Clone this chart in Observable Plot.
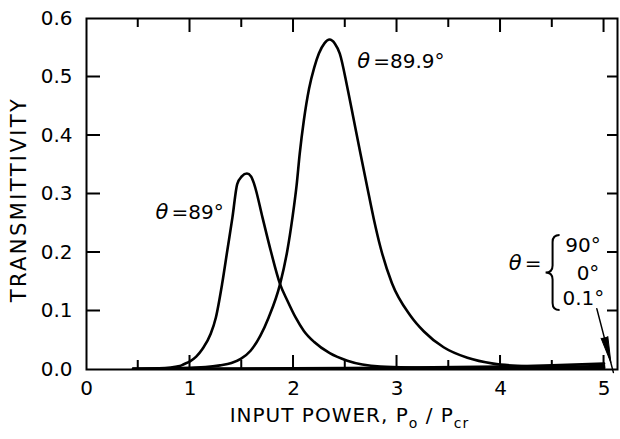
<!DOCTYPE html>
<html><head><meta charset="utf-8">
<script src="https://cdn.jsdelivr.net/npm/d3@7"></script>
<script src="https://cdn.jsdelivr.net/npm/@observablehq/plot@0.6"></script>
<style>
body{margin:0;background:#fff}
</style></head><body><div id="chart"></div>
<script>
// ---- data ----
const power89 = [0.45, 0.7, 0.9, 0.94, 1.0, 1.06, 1.12, 1.2, 1.25, 1.31, 1.36, 1.41, 1.456, 1.5, 1.55, 1.59, 1.62, 1.70, 1.78, 1.87, 1.94, 2.02, 2.10, 2.2, 2.35, 2.52, 2.84, 3.2, 3.6, 4.0, 4.5, 5.0];
const trans89 = [0.001, 0.002, 0.006, 0.009, 0.014, 0.022, 0.035, 0.061, 0.089, 0.146, 0.203, 0.260, 0.317, 0.330, 0.335, 0.330, 0.317, 0.260, 0.203, 0.146, 0.118, 0.089, 0.066, 0.047, 0.028, 0.015, 0.005, 0.003, 0.002, 0.002, 0.001, 0.001];

const power899 = [0.45, 0.8, 1.0, 1.15, 1.29, 1.40, 1.49, 1.585, 1.68, 1.76, 1.87, 1.94, 1.99, 2.03, 2.06, 2.10, 2.15, 2.20, 2.245, 2.30, 2.348, 2.40, 2.447, 2.519, 2.583, 2.647, 2.712, 2.776, 2.84, 2.95, 3.13, 3.26, 3.45, 3.68, 3.93, 4.2, 4.6, 5.0];
const trans899 = [0.001, 0.002, 0.003, 0.004, 0.007, 0.011, 0.018, 0.032, 0.058, 0.089, 0.146, 0.203, 0.260, 0.315, 0.369, 0.426, 0.480, 0.516, 0.540, 0.558, 0.564, 0.557, 0.540, 0.483, 0.426, 0.369, 0.312, 0.257, 0.209, 0.148, 0.092, 0.065, 0.038, 0.020, 0.010, 0.006, 0.004, 0.003];

const powerFlat = [0.45, 1, 2, 3, 4, 4.5, 5.0];
const trans90  = [0.001, 0.001, 0.002, 0.003, 0.005, 0.007, 0.010];
const trans0   = [0.000, 0.001, 0.001, 0.002, 0.003, 0.004, 0.006];
const trans01  = [0.000, 0.000, 0.001, 0.001, 0.002, 0.003, 0.004];

const xMajorTicks = [0, 1, 2, 3, 4, 5];
const xMinorTicks = [0.5, 1.5, 2.5, 3.5, 4.5];
const yTicks = [0, 0.1, 0.2, 0.3, 0.4, 0.5, 0.6];
const xDomain = [0, 5.13];
const yDomain = [0, 0.6];

// annotations (data coordinates)
const thetaLabels = [
  {x: 0.667, y: 0.268, rest: "=89°"},
  {x: 2.615, y: 0.5265, rest: "=89.9°"},
  {x: 4.08, y: 0.181, rest: "="}
];
const braceItems = [
  {x: 4.797, y: 0.211, text: "90°"},
  {x: 4.845, y: 0.164, text: "0°"},
  {x: 4.80, y: 0.122, text: "0.1°"}
];
const brace = [{x: 4.44, y1: 0.229, y2: 0.101}];
const arrowLine = [{x: 4.93, y: 0.104}, {x: 5.09, y: -0.005}];
const arrowHead = [{x: 5.066, y: 0.012}];

// ---- build rows ----
const rows = (name, xs, ys) => xs.map((x, i) => ({series: name, x, y: ys[i]}));
const curves = [
  ...rows("89", power89, trans89),
  ...rows("89.9", power899, trans899),
  ...rows("90", powerFlat, trans90),
  ...rows("0", powerFlat, trans0),
  ...rows("0.1", powerFlat, trans01)
];

const FONT = "DejaVu Sans";

// plot geometry
const W = 620, H = 439, ML = 86, MR = 3, MT = 18, MB = 70;

// inward ticks + brace, drawn with the plot's scales
function decorations(index, {x, y}) {
  const g = d3.create("svg:g");
  const yb = y(yDomain[0]), yt = y(yDomain[1]);
  const xl = x(xDomain[0]), xr = x(xDomain[1]);
  let d = "";
  const add = (a, b, c, e) => { d += `M${a},${b}L${c},${e}`; };
  for (const v of xMajorTicks.slice(1)) { add(x(v), yb, x(v), yb - 14); add(x(v), yt, x(v), yt + 14); }
  for (const v of xMinorTicks) { add(x(v), yb, x(v), yb - 9); add(x(v), yt, x(v), yt + 9); }
  for (const v of yTicks.slice(1, -1)) { add(xl, y(v), xl + 14, y(v)); add(xr, y(v), xr - 10, y(v)); }
  for (const b of brace) {
    const bl = x(b.x), bt = y(b.y1), bb = y(b.y2);
    const w = 14, xm = bl + w / 2, br = bl + w, ym = (bt + bb) / 2, r = 7;
    d += `M${br},${bt}Q${xm},${bt} ${xm},${bt + r}L${xm},${ym - r}Q${xm},${ym} ${bl},${ym}Q${xm},${ym} ${xm},${ym + r}L${xm},${bb - r}Q${xm},${bb} ${br},${bb}`;
  }
  g.append("path").attr("d", d).attr("fill", "none").attr("stroke", "#000").attr("stroke-width", 2);
  return g.node();
}

function titles(index, scales, values, dim) {
  const g = d3.create("svg:g").attr("font-family", FONT).attr("fill", "black");
  const cx = dim.marginLeft + (dim.width - dim.marginLeft - dim.marginRight) / 2;
  const t = g.append("text").attr("x", cx - 2).attr("y", 422).attr("text-anchor", "middle")
    .attr("font-size", 20).attr("letter-spacing", 1.0);
  t.append("tspan").text("INPUT POWER, P");
  t.append("tspan").attr("font-size", 14).attr("dy", 6).text("o");
  t.append("tspan").attr("dy", -6).text(" / P");
  t.append("tspan").attr("font-size", 14).attr("dy", 6).text("cr");
  const cy = dim.marginTop + (dim.height - dim.marginTop - dim.marginBottom) / 2 + 6;
  g.append("text").attr("transform", `translate(26,${cy}) rotate(-90)`).attr("text-anchor", "middle")
    .attr("font-size", 21).attr("letter-spacing", 2.4).text("TRANSMITTIVITY");
  return g.node();
}

const chart = Plot.plot({
  width: W, height: H,
  marginLeft: ML, marginRight: MR, marginTop: MT, marginBottom: MB,
  style: {fontFamily: FONT, background: "white", color: "black"},
  x: {domain: xDomain},
  y: {domain: yDomain},
  marks: [
    // tick labels
    Plot.axisX({anchor: "bottom", ticks: xMajorTicks, tickSize: 0, tickPadding: 11, fontSize: 20, tickFormat: d3.format("d"), label: null}),
    Plot.axisY({anchor: "left", ticks: yTicks, tickSize: 0, tickPadding: 14, fontSize: 20, tickFormat: d3.format(".1f"), label: null}),
    Plot.frame({stroke: "black", strokeWidth: 2}),
    // curves
    Plot.line(curves, {x: "x", y: "y", z: "series", curve: "monotone-x", stroke: "black", strokeWidth: 2.6, clip: true}),
    // annotations
    Plot.text(thetaLabels, {x: "x", y: "y", text: () => "θ", textAnchor: "start", fontSize: 21, fontStyle: "italic"}),
    Plot.text(thetaLabels, {x: "x", y: "y", text: "rest", textAnchor: "start", dx: 16, fontSize: 20}),
    Plot.text(braceItems, {x: "x", y: "y", text: "text", fontSize: 20}),
    Plot.line(arrowLine, {x: "x", y: "y", stroke: "black", strokeWidth: 1.5}),
    Plot.vector(arrowHead, {x: "x", y: "y", shape: "spike", length: 26, r: 3.5, rotate: 165.6, anchor: "end", fill: "black", stroke: "black", strokeWidth: 1}),
    titles,
    decorations
  ]
});
document.getElementById("chart").append(chart);
</script></body></html>
